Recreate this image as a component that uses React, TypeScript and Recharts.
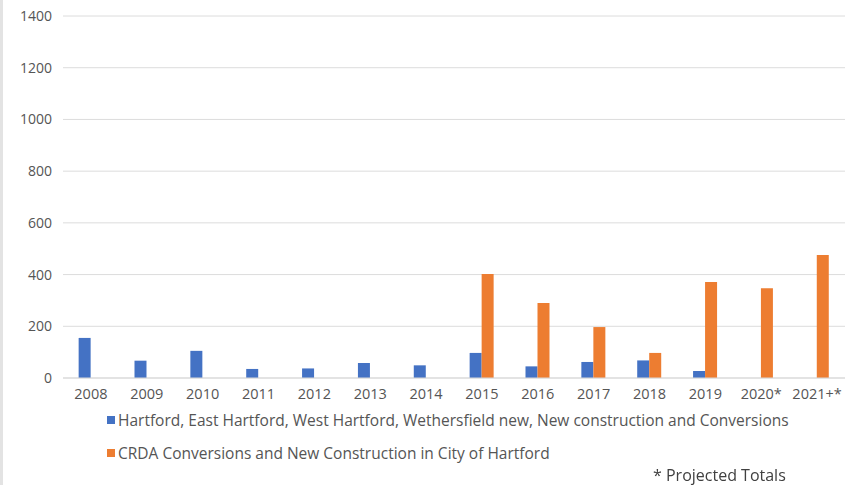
import { Bar, BarChart, CartesianGrid, XAxis, YAxis } from "recharts";

const years = ["2008", "2009", "2010", "2011", "2012", "2013", "2014", "2015", "2016", "2017", "2018", "2019", "2020*", "2021+*"];
const suburbs = [155, 67, 105, 35, 37, 58, 49, 97, 45, 62, 68, 27, null, null];
const crda = [null, null, null, null, null, null, null, 402, 290, 197, 97, 371, 347, 476];
const yTicks = [0, 200, 400, 600, 800, 1000, 1200, 1400];

const suburbsName = "Hartford, East Hartford, West Hartford, Wethersfield new, New construction and Conversions";
const crdaName = "CRDA Conversions and New Construction in City of Hartford";

const data = years.map((year, i) => ({ year, suburbs: suburbs[i], crda: crda[i] }));

const FONT = "'Open Sans', 'Noto Sans', sans-serif";

function LegendBox() {
  const rows = [
    { name: suburbsName, color: "#4472C4" },
    { name: crdaName, color: "#ED7D31" },
  ];
  return (
    <div style={{ position: "absolute", left: 0, top: 409, width: 846, height: 76, fontFamily: FONT, fontSize: 15.5, color: "#555" }}>
      {rows.map((row, i) => (
        <div key={row.name} style={{ position: "absolute", left: 104, top: i * 33, display: "flex", alignItems: "center", whiteSpace: "nowrap" }}>
          <span style={{ display: "inline-block", width: 8, height: 8, background: row.color, marginRight: 3 }} />
          {row.name}
        </div>
      ))}
      <div style={{ position: "absolute", left: 650, top: 55, fontSize: 16, color: "#404040", whiteSpace: "nowrap" }}>* Projected Totals</div>
    </div>
  );
}

export default function App() {
  return (
    <div style={{ position: "fixed", left: 0, top: 0, width: 846, height: 485, background: "#fff", borderLeft: "3px solid #e3e3e3", boxSizing: "border-box" }}>
      <BarChart
        width={843}
        height={485}
        data={data}
        margin={{ top: 16, right: 1, left: 0, bottom: 77 }}
        barGap={0}
        barCategoryGap="28%"
      >
        <CartesianGrid vertical={false} stroke="#dcdcdc" />
        <XAxis
          dataKey="year"
          interval={0}
          tickLine={false}
          axisLine={{ stroke: "#d9d9d9" }}
          tick={{ fontSize: 14.5, fill: "#555", fontFamily: FONT }}
          tickMargin={5}
        />
        <YAxis
          width={60}
          domain={[0, 1400]}
          ticks={yTicks}
          interval={0}
          tickLine={false}
          axisLine={false}
          tick={{ fontSize: 14, fill: "#555", fontFamily: FONT }}
          tickMargin={5}
        />
        <Bar dataKey="suburbs" name={suburbsName} fill="#4472C4" isAnimationActive={false} />
        <Bar dataKey="crda" name={crdaName} fill="#ED7D31" isAnimationActive={false} />
      </BarChart>
      <LegendBox />
    </div>
  );
}
